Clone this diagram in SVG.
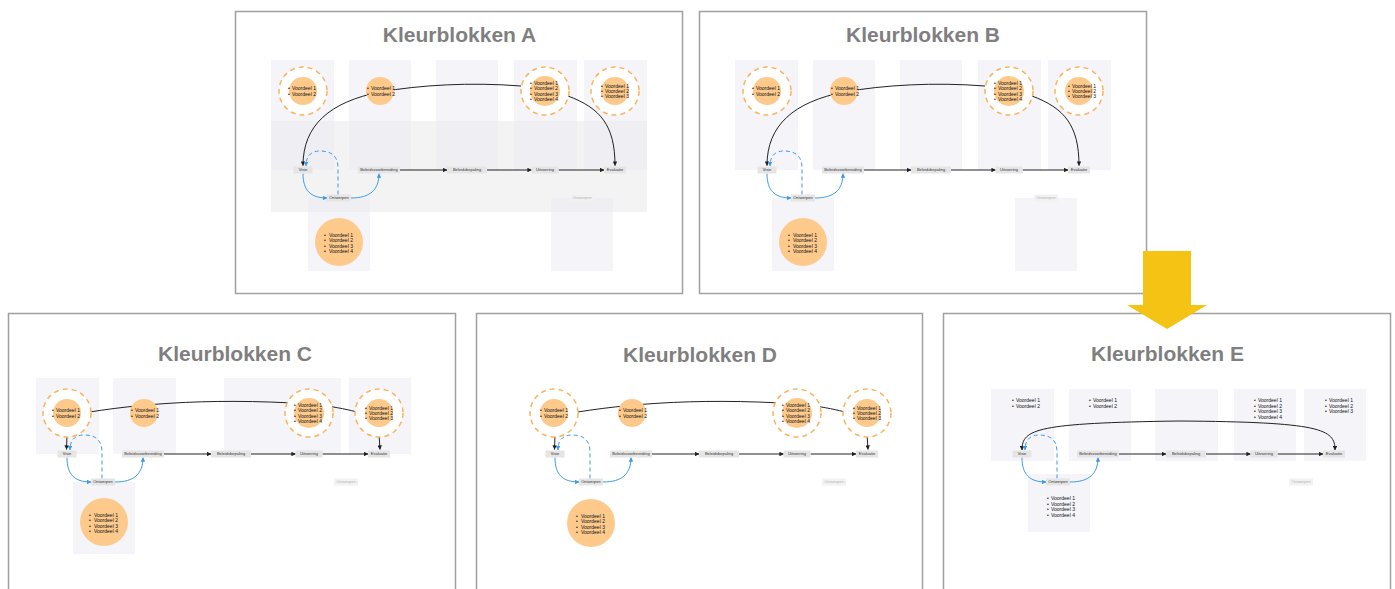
<svg xmlns="http://www.w3.org/2000/svg" width="1395" height="589" viewBox="0 0 1395 589">
  <defs>
    <style>
      .frame{fill:#fff;stroke:#a0a0a0;stroke-width:1.5}
      .title{font-family:'Liberation Sans',Arial,sans-serif;font-weight:bold;font-size:21px;fill:#7f7f7f;text-anchor:middle}
      .col{fill:#f4f4f9}
      .colt{fill:#e9e9f3;fill-opacity:0.5}
      .band{fill:#f3f3f3}
      .ring{fill:#fff;stroke:#f8b45c;stroke-width:1.5;stroke-dasharray:5 4}
      .blob{fill:#fdca8c}
      .lbl rect{fill:#e5e5e5}
      .lbl text{font-family:'Liberation Sans',Arial,sans-serif;font-size:4px;fill:#333;text-anchor:middle}
      .ghost rect{fill:#f2f2f2}
      .ghost text{font-family:'Liberation Sans',Arial,sans-serif;font-size:4px;fill:#b4b4b4;text-anchor:middle}
      .li{font-family:'Liberation Sans',Arial,sans-serif;font-size:5px;fill:#111}
      .k{fill:none;stroke:#222;stroke-width:1}
      .b{fill:none;stroke:#3d9be9;stroke-width:1}
      .bd{fill:none;stroke:#3d9be9;stroke-width:1;stroke-dasharray:4 3}
    </style>
    <marker id="ak" viewBox="0 0 6 6" refX="5.5" refY="3" markerWidth="4.5" markerHeight="4.5" markerUnits="userSpaceOnUse" orient="auto-start-reverse">
      <path d="M0,0 L6,3 L0,6 Z" fill="#222"/>
    </marker>
    <marker id="ab" viewBox="0 0 6 6" refX="5.5" refY="3" markerWidth="4.5" markerHeight="4.5" markerUnits="userSpaceOnUse" orient="auto-start-reverse">
      <path d="M0,0 L6,3 L0,6 Z" fill="#3d9be9"/>
    </marker>
  </defs>

  <!-- panel frames and titles -->
  <rect class="frame" x="235.5" y="11.5" width="447" height="282"/>
  <rect class="frame" x="699.5" y="11.5" width="447" height="282"/>
  <rect class="frame" x="8.5" y="313.5" width="447" height="290"/>
  <rect class="frame" x="476.5" y="313.5" width="446" height="290"/>
  <rect class="frame" x="943.5" y="313.5" width="447" height="290"/>
  <text class="title" x="459.5" y="42">Kleurblokken A</text>
  <text class="title" x="923" y="42">Kleurblokken B</text>
  <text class="title" x="235" y="361">Kleurblokken C</text>
  <text class="title" x="700" y="362">Kleurblokken D</text>
  <text class="title" x="1167.5" y="361">Kleurblokken E</text>

  <!-- ===== Panel A ===== -->
  <g id="panel-a">
    <g id="a-blocks">
      <rect class="band" x="271" y="121" width="376" height="91"/>
      <rect class="colt" x="271" y="60" width="63" height="110"/>
      <rect class="colt" x="349" y="60" width="62" height="110"/>
      <rect class="colt" x="436" y="60" width="62" height="110"/>
      <rect class="colt" x="514" y="60" width="63" height="110"/>
      <rect class="colt" x="584" y="60" width="63" height="110"/>
      <rect class="colt" x="308" y="198" width="62" height="73"/>
      <rect class="colt" x="551" y="198" width="62" height="73"/>
    </g>
    <g id="a-connectors">
      <path class="k" d="M521,86 C470,82 420,85 380,92 C330,102 303,125 303,165.5" marker-end="url(#ak)"/>
      <path class="k" d="M568,96 C600,108 615,125 615,165.5" marker-end="url(#ak)"/>
      <path class="k" d="M400,170 L447,170" marker-end="url(#ak)"/>
      <path class="k" d="M487,170 L531.5,170" marker-end="url(#ak)"/>
      <path class="k" d="M558.5,170 L604,170" marker-end="url(#ak)"/>
      <path class="b" d="M303,173.5 C303,190 310,198 327,198" marker-end="url(#ab)"/>
      <path class="b" d="M351,198 C370,198 379,190 379,173.5" marker-end="url(#ab)"/>
      <path class="bd" d="M338,194.5 L338,168 C338,155 330,151 320,151 C311,151 306,156 306,166" marker-end="url(#ab)"/>
    </g>
    <g id="a-pro-visie"><circle class="ring" cx="303" cy="91" r="24"/><circle class="blob" cx="303" cy="91" r="14"/>
      <text class="li"><tspan x="288" y="90.2">•</tspan><tspan x="292">Voordeel 1</tspan><tspan x="288" y="95.5">•</tspan><tspan x="292">Voordeel 2</tspan></text></g>
    <g id="a-pro-voorbereiding"><circle class="blob" cx="380" cy="91" r="14"/>
      <text class="li"><tspan x="367" y="90.2">•</tspan><tspan x="371">Voordeel 1</tspan><tspan x="367" y="95.5">•</tspan><tspan x="371">Voordeel 2</tspan></text></g>
    <g id="a-pro-uitvoering"><circle class="ring" cx="545" cy="91" r="24"/><circle class="blob" cx="545" cy="91" r="15"/>
      <text class="li"><tspan x="530" y="84.8">•</tspan><tspan x="534">Voordeel 1</tspan><tspan x="530" y="90.1">•</tspan><tspan x="534">Voordeel 2</tspan><tspan x="530" y="95.5">•</tspan><tspan x="534">Voordeel 3</tspan><tspan x="530" y="100.8">•</tspan><tspan x="534">Voordeel 4</tspan></text></g>
    <g id="a-pro-evaluatie"><circle class="ring" cx="615" cy="91" r="24"/><circle class="blob" cx="615" cy="91" r="14"/>
      <text class="li"><tspan x="601" y="87.5">•</tspan><tspan x="605">Voordeel 1</tspan><tspan x="601" y="92.8">•</tspan><tspan x="605">Voordeel 2</tspan><tspan x="601" y="98.1">•</tspan><tspan x="605">Voordeel 3</tspan></text></g>
    <g id="a-pro-ontwerpen"><circle class="blob" cx="339" cy="242" r="24"/>
      <text class="li"><tspan x="324" y="236.8">•</tspan><tspan x="329">Voordeel 1</tspan><tspan x="324" y="242.1">•</tspan><tspan x="329">Voordeel 2</tspan><tspan x="324" y="247.5">•</tspan><tspan x="329">Voordeel 3</tspan><tspan x="324" y="252.8">•</tspan><tspan x="329">Voordeel 4</tspan></text></g>
    <g id="a-visie" class="lbl"><rect x="293.5" y="166.5" width="19" height="7"/><text x="303" y="171.4">Visie</text></g>
    <g id="a-beleidsvoorbereiding" class="lbl"><rect x="358" y="166.5" width="42" height="7"/><text x="379" y="171.4">Beleidsvoorbereiding</text></g>
    <g id="a-beleidsbepaling" class="lbl"><rect x="447" y="166.5" width="40" height="7"/><text x="467" y="171.4">Beleidsbepaling</text></g>
    <g id="a-uitvoering" class="lbl"><rect x="531.5" y="166.5" width="27" height="7"/><text x="545" y="171.4">Uitvoering</text></g>
    <g id="a-evaluatie" class="lbl"><rect x="604" y="166.5" width="22" height="7"/><text x="615" y="171.4">Evaluatie</text></g>
    <g id="a-ontwerpen" class="lbl"><rect x="327" y="194.5" width="24" height="7"/><text x="339" y="199.4">Ontwerpen</text></g>
    <g id="a-ontwerpen-ghost" class="ghost"><rect x="570" y="194.5" width="24" height="7"/><text x="582" y="199.4">Ontwerpen</text></g>
  </g>

  <!-- ===== Panel B ===== -->
  <g id="panel-b" transform="translate(464,0)">
    <g id="b-blocks">
      <rect class="col" x="271" y="60" width="63" height="110"/>
      <rect class="col" x="349" y="60" width="62" height="110"/>
      <rect class="col" x="436" y="60" width="62" height="110"/>
      <rect class="col" x="514" y="60" width="63" height="110"/>
      <rect class="col" x="584" y="60" width="63" height="110"/>
      <rect class="col" x="308" y="198" width="62" height="73"/>
      <rect class="col" x="551" y="198" width="62" height="73"/>
    </g>
    <g id="b-connectors">
      <path class="k" d="M521,86 C470,82 420,85 380,92 C330,102 303,125 303,165.5" marker-end="url(#ak)"/>
      <path class="k" d="M568,96 C600,108 615,125 615,165.5" marker-end="url(#ak)"/>
      <path class="k" d="M400,170 L447,170" marker-end="url(#ak)"/>
      <path class="k" d="M487,170 L531.5,170" marker-end="url(#ak)"/>
      <path class="k" d="M558.5,170 L604,170" marker-end="url(#ak)"/>
      <path class="b" d="M303,173.5 C303,190 310,198 327,198" marker-end="url(#ab)"/>
      <path class="b" d="M351,198 C370,198 379,190 379,173.5" marker-end="url(#ab)"/>
      <path class="bd" d="M338,194.5 L338,168 C338,155 330,151 320,151 C311,151 306,156 306,166" marker-end="url(#ab)"/>
    </g>
    <g id="b-pro-visie"><circle class="ring" cx="303" cy="91" r="24"/><circle class="blob" cx="303" cy="91" r="14"/>
      <text class="li"><tspan x="288" y="90.2">•</tspan><tspan x="292">Voordeel 1</tspan><tspan x="288" y="95.5">•</tspan><tspan x="292">Voordeel 2</tspan></text></g>
    <g id="b-pro-voorbereiding"><circle class="blob" cx="380" cy="91" r="14"/>
      <text class="li"><tspan x="367" y="90.2">•</tspan><tspan x="371">Voordeel 1</tspan><tspan x="367" y="95.5">•</tspan><tspan x="371">Voordeel 2</tspan></text></g>
    <g id="b-pro-uitvoering"><circle class="ring" cx="545" cy="91" r="24"/><circle class="blob" cx="545" cy="91" r="15"/>
      <text class="li"><tspan x="530" y="84.8">•</tspan><tspan x="534">Voordeel 1</tspan><tspan x="530" y="90.1">•</tspan><tspan x="534">Voordeel 2</tspan><tspan x="530" y="95.5">•</tspan><tspan x="534">Voordeel 3</tspan><tspan x="530" y="100.8">•</tspan><tspan x="534">Voordeel 4</tspan></text></g>
    <g id="b-pro-evaluatie"><circle class="ring" cx="615" cy="91" r="24"/><circle class="blob" cx="615" cy="91" r="14"/>
      <text class="li"><tspan x="604" y="87.5">•</tspan><tspan x="608">Voordeel 1</tspan><tspan x="604" y="92.8">•</tspan><tspan x="608">Voordeel 2</tspan><tspan x="604" y="98.1">•</tspan><tspan x="608">Voordeel 3</tspan></text></g>
    <g id="b-pro-ontwerpen"><circle class="blob" cx="339" cy="242" r="24"/>
      <text class="li"><tspan x="324" y="236.8">•</tspan><tspan x="329">Voordeel 1</tspan><tspan x="324" y="242.1">•</tspan><tspan x="329">Voordeel 2</tspan><tspan x="324" y="247.5">•</tspan><tspan x="329">Voordeel 3</tspan><tspan x="324" y="252.8">•</tspan><tspan x="329">Voordeel 4</tspan></text></g>
    <g id="b-visie" class="lbl"><rect x="293.5" y="166.5" width="19" height="7"/><text x="303" y="171.4">Visie</text></g>
    <g id="b-beleidsvoorbereiding" class="lbl"><rect x="358" y="166.5" width="42" height="7"/><text x="379" y="171.4">Beleidsvoorbereiding</text></g>
    <g id="b-beleidsbepaling" class="lbl"><rect x="447" y="166.5" width="40" height="7"/><text x="467" y="171.4">Beleidsbepaling</text></g>
    <g id="b-uitvoering" class="lbl"><rect x="531.5" y="166.5" width="27" height="7"/><text x="545" y="171.4">Uitvoering</text></g>
    <g id="b-evaluatie" class="lbl"><rect x="604" y="166.5" width="22" height="7"/><text x="615" y="171.4">Evaluatie</text></g>
    <g id="b-ontwerpen" class="lbl"><rect x="327" y="194.5" width="24" height="7"/><text x="339" y="199.4">Ontwerpen</text></g>
    <g id="b-ontwerpen-ghost" class="ghost"><rect x="570" y="194.5" width="24" height="7"/><text x="582" y="199.4">Ontwerpen</text></g>
  </g>

  <!-- ===== Panel C ===== -->
  <g id="panel-c" transform="translate(-236,284)">
    <g id="c-blocks">
      <rect class="col" x="272" y="94" width="63" height="76"/>
      <rect class="col" x="349" y="94" width="63" height="76"/>
      <rect class="col" x="460" y="94" width="117" height="76"/>
      <rect class="col" x="585" y="94" width="62" height="76"/>
      <rect class="col" x="309" y="198" width="62" height="72"/>
    </g>
    <g id="c-connectors">
      <path class="k" d="M303,132 C360,121 440,113 545,120 C580,123 600,130 615,134"/>
      <path class="k" d="M303,150 L302.5,165.5" marker-end="url(#ak)"/>
      <path class="k" d="M615,150 L616,165.5" marker-end="url(#ak)"/>
      <path class="k" d="M400,170 L447,170" marker-end="url(#ak)"/>
      <path class="k" d="M487,170 L531.5,170" marker-end="url(#ak)"/>
      <path class="k" d="M558.5,170 L604,170" marker-end="url(#ak)"/>
      <path class="b" d="M303,173.5 C303,190 310,198 327,198" marker-end="url(#ab)"/>
      <path class="b" d="M351,198 C370,198 379,190 379,173.5" marker-end="url(#ab)"/>
      <path class="bd" d="M338,194.5 L338,168 C338,155 330,151 320,151 C311,151 306,156 306,166" marker-end="url(#ab)"/>
    </g>
    <g id="c-pro-visie"><circle class="ring" cx="303" cy="129" r="24"/><circle class="blob" cx="303" cy="129" r="14"/>
      <text class="li"><tspan x="288" y="128.2">•</tspan><tspan x="292">Voordeel 1</tspan><tspan x="288" y="133.5">•</tspan><tspan x="292">Voordeel 2</tspan></text></g>
    <g id="c-pro-voorbereiding"><circle class="blob" cx="380" cy="129" r="14"/>
      <text class="li"><tspan x="367" y="128.2">•</tspan><tspan x="371">Voordeel 1</tspan><tspan x="367" y="133.5">•</tspan><tspan x="371">Voordeel 2</tspan></text></g>
    <g id="c-pro-uitvoering"><circle class="ring" cx="545" cy="129" r="24"/><circle class="blob" cx="545" cy="129" r="15"/>
      <text class="li"><tspan x="530" y="122.8">•</tspan><tspan x="534">Voordeel 1</tspan><tspan x="530" y="128.1">•</tspan><tspan x="534">Voordeel 2</tspan><tspan x="530" y="133.5">•</tspan><tspan x="534">Voordeel 3</tspan><tspan x="530" y="138.8">•</tspan><tspan x="534">Voordeel 4</tspan></text></g>
    <g id="c-pro-evaluatie"><circle class="ring" cx="615" cy="129" r="24"/><circle class="blob" cx="615" cy="129" r="14"/>
      <text class="li"><tspan x="601" y="125.5">•</tspan><tspan x="605">Voordeel 1</tspan><tspan x="601" y="130.8">•</tspan><tspan x="605">Voordeel 2</tspan><tspan x="601" y="136.1">•</tspan><tspan x="605">Voordeel 3</tspan></text></g>
    <g id="c-pro-ontwerpen"><circle class="blob" cx="340" cy="238" r="24"/>
      <text class="li"><tspan x="325" y="232.8">•</tspan><tspan x="330">Voordeel 1</tspan><tspan x="325" y="238.1">•</tspan><tspan x="330">Voordeel 2</tspan><tspan x="325" y="243.5">•</tspan><tspan x="330">Voordeel 3</tspan><tspan x="325" y="248.8">•</tspan><tspan x="330">Voordeel 4</tspan></text></g>
    <g id="c-visie" class="lbl"><rect x="293.5" y="166.5" width="19" height="7"/><text x="303" y="171.4">Visie</text></g>
    <g id="c-beleidsvoorbereiding" class="lbl"><rect x="358" y="166.5" width="42" height="7"/><text x="379" y="171.4">Beleidsvoorbereiding</text></g>
    <g id="c-beleidsbepaling" class="lbl"><rect x="447" y="166.5" width="40" height="7"/><text x="467" y="171.4">Beleidsbepaling</text></g>
    <g id="c-uitvoering" class="lbl"><rect x="531.5" y="166.5" width="27" height="7"/><text x="545" y="171.4">Uitvoering</text></g>
    <g id="c-evaluatie" class="lbl"><rect x="604" y="166.5" width="22" height="7"/><text x="615" y="171.4">Evaluatie</text></g>
    <g id="c-ontwerpen" class="lbl"><rect x="327" y="194.5" width="24" height="7"/><text x="339" y="199.4">Ontwerpen</text></g>
    <g id="c-ontwerpen-ghost" class="ghost"><rect x="570" y="194.5" width="24" height="7"/><text x="582" y="199.4">Ontwerpen</text></g>
  </g>

  <!-- ===== Panel D ===== -->
  <g id="panel-d" transform="translate(252,284)">
    <g id="d-connectors">
      <path class="k" d="M303,132 C360,121 440,113 545,120 C580,123 600,130 615,134"/>
      <path class="k" d="M303,150 L302.5,165.5" marker-end="url(#ak)"/>
      <path class="k" d="M615,150 L616,165.5" marker-end="url(#ak)"/>
      <path class="k" d="M400,170 L447,170" marker-end="url(#ak)"/>
      <path class="k" d="M487,170 L531.5,170" marker-end="url(#ak)"/>
      <path class="k" d="M558.5,170 L604,170" marker-end="url(#ak)"/>
      <path class="b" d="M303,173.5 C303,190 310,198 327,198" marker-end="url(#ab)"/>
      <path class="b" d="M351,198 C370,198 379,190 379,173.5" marker-end="url(#ab)"/>
      <path class="bd" d="M338,194.5 L338,168 C338,155 330,151 320,151 C311,151 306,156 306,166" marker-end="url(#ab)"/>
    </g>
    <g id="d-pro-visie"><circle class="ring" cx="302" cy="129" r="24"/><circle class="blob" cx="302" cy="129" r="14"/>
      <text class="li"><tspan x="288" y="128.2">•</tspan><tspan x="292">Voordeel 1</tspan><tspan x="288" y="133.5">•</tspan><tspan x="292">Voordeel 2</tspan></text></g>
    <g id="d-pro-voorbereiding"><circle class="blob" cx="380" cy="129" r="14"/>
      <text class="li"><tspan x="367" y="128.2">•</tspan><tspan x="371">Voordeel 1</tspan><tspan x="367" y="133.5">•</tspan><tspan x="371">Voordeel 2</tspan></text></g>
    <g id="d-pro-uitvoering"><circle class="ring" cx="545" cy="129" r="24"/><circle class="blob" cx="545" cy="129" r="15"/>
      <text class="li"><tspan x="530" y="122.8">•</tspan><tspan x="534">Voordeel 1</tspan><tspan x="530" y="128.1">•</tspan><tspan x="534">Voordeel 2</tspan><tspan x="530" y="133.5">•</tspan><tspan x="534">Voordeel 3</tspan><tspan x="530" y="138.8">•</tspan><tspan x="534">Voordeel 4</tspan></text></g>
    <g id="d-pro-evaluatie"><circle class="ring" cx="615" cy="129" r="24"/><circle class="blob" cx="615" cy="129" r="14"/>
      <text class="li"><tspan x="601" y="125.5">•</tspan><tspan x="605">Voordeel 1</tspan><tspan x="601" y="130.8">•</tspan><tspan x="605">Voordeel 2</tspan><tspan x="601" y="136.1">•</tspan><tspan x="605">Voordeel 3</tspan></text></g>
    <g id="d-pro-ontwerpen"><circle class="blob" cx="339" cy="239" r="24"/>
      <text class="li"><tspan x="324" y="233.8">•</tspan><tspan x="329">Voordeel 1</tspan><tspan x="324" y="239.1">•</tspan><tspan x="329">Voordeel 2</tspan><tspan x="324" y="244.5">•</tspan><tspan x="329">Voordeel 3</tspan><tspan x="324" y="249.8">•</tspan><tspan x="329">Voordeel 4</tspan></text></g>
    <g id="d-visie" class="lbl"><rect x="293.5" y="166.5" width="19" height="7"/><text x="303" y="171.4">Visie</text></g>
    <g id="d-beleidsvoorbereiding" class="lbl"><rect x="358" y="166.5" width="42" height="7"/><text x="379" y="171.4">Beleidsvoorbereiding</text></g>
    <g id="d-beleidsbepaling" class="lbl"><rect x="447" y="166.5" width="40" height="7"/><text x="467" y="171.4">Beleidsbepaling</text></g>
    <g id="d-uitvoering" class="lbl"><rect x="531.5" y="166.5" width="27" height="7"/><text x="545" y="171.4">Uitvoering</text></g>
    <g id="d-evaluatie" class="lbl"><rect x="604" y="166.5" width="22" height="7"/><text x="615" y="171.4">Evaluatie</text></g>
    <g id="d-ontwerpen" class="lbl"><rect x="327" y="194.5" width="24" height="7"/><text x="339" y="199.4">Ontwerpen</text></g>
    <g id="d-ontwerpen-ghost" class="ghost"><rect x="570" y="194.5" width="24" height="7"/><text x="582" y="199.4">Ontwerpen</text></g>
  </g>

  <!-- ===== Panel E ===== -->
  <g id="panel-e" transform="translate(719,284)">
    <g id="e-blocks">
      <rect class="col" x="272" y="105" width="63" height="72"/>
      <rect class="col" x="350" y="105" width="62" height="72"/>
      <rect class="col" x="436" y="105" width="63" height="72"/>
      <rect class="col" x="515" y="105" width="62" height="72"/>
      <rect class="col" x="585" y="105" width="62" height="72"/>
      <rect class="col" x="309" y="190" width="62" height="58"/>
    </g>
    <g id="e-connectors">
      <path class="k" d="M303,166 C303,145 318,139 460,137 C602,138 616,145 616,166" marker-start="url(#ak)" marker-end="url(#ak)"/>
      <path class="k" d="M400,170 L447,170" marker-end="url(#ak)"/>
      <path class="k" d="M487,170 L531.5,170" marker-end="url(#ak)"/>
      <path class="k" d="M558.5,170 L604,170" marker-end="url(#ak)"/>
      <path class="b" d="M303,173.5 C303,190 310,198 327,198" marker-end="url(#ab)"/>
      <path class="b" d="M351,198 C370,198 379,190 379,173.5" marker-end="url(#ab)"/>
      <path class="bd" d="M338,194.5 L338,168 C338,155 330,151 320,151 C311,151 306,156 306,166" marker-end="url(#ab)"/>
    </g>
    <g id="e-pro-visie"><text class="li"><tspan x="293" y="118">•</tspan><tspan x="297">Voordeel 1</tspan><tspan x="293" y="123.5">•</tspan><tspan x="297">Voordeel 2</tspan></text></g>
    <g id="e-pro-voorbereiding"><text class="li"><tspan x="370" y="118">•</tspan><tspan x="374">Voordeel 1</tspan><tspan x="370" y="123.5">•</tspan><tspan x="374">Voordeel 2</tspan></text></g>
    <g id="e-pro-uitvoering"><text class="li"><tspan x="535" y="118">•</tspan><tspan x="539">Voordeel 1</tspan><tspan x="535" y="123.5">•</tspan><tspan x="539">Voordeel 2</tspan><tspan x="535" y="129">•</tspan><tspan x="539">Voordeel 3</tspan><tspan x="535" y="134.5">•</tspan><tspan x="539">Voordeel 4</tspan></text></g>
    <g id="e-pro-evaluatie"><text class="li"><tspan x="606" y="118">•</tspan><tspan x="610">Voordeel 1</tspan><tspan x="606" y="123.5">•</tspan><tspan x="610">Voordeel 2</tspan><tspan x="606" y="129">•</tspan><tspan x="610">Voordeel 3</tspan></text></g>
    <g id="e-pro-ontwerpen"><text class="li"><tspan x="328" y="216">•</tspan><tspan x="332">Voordeel 1</tspan><tspan x="328" y="221.5">•</tspan><tspan x="332">Voordeel 2</tspan><tspan x="328" y="227">•</tspan><tspan x="332">Voordeel 3</tspan><tspan x="328" y="232.5">•</tspan><tspan x="332">Voordeel 4</tspan></text></g>
    <g id="e-visie" class="lbl"><rect x="293.5" y="166.5" width="19" height="7"/><text x="303" y="171.4">Visie</text></g>
    <g id="e-beleidsvoorbereiding" class="lbl"><rect x="358" y="166.5" width="42" height="7"/><text x="379" y="171.4">Beleidsvoorbereiding</text></g>
    <g id="e-beleidsbepaling" class="lbl"><rect x="447" y="166.5" width="40" height="7"/><text x="467" y="171.4">Beleidsbepaling</text></g>
    <g id="e-uitvoering" class="lbl"><rect x="531.5" y="166.5" width="27" height="7"/><text x="545" y="171.4">Uitvoering</text></g>
    <g id="e-evaluatie" class="lbl"><rect x="604" y="166.5" width="22" height="7"/><text x="615" y="171.4">Evaluatie</text></g>
    <g id="e-ontwerpen" class="lbl"><rect x="327" y="194.5" width="24" height="7"/><text x="339" y="199.4">Ontwerpen</text></g>
    <g id="e-ontwerpen-ghost" class="ghost"><rect x="570" y="194.5" width="24" height="7"/><text x="582" y="199.4">Ontwerpen</text></g>
  </g>

  <!-- big yellow arrow pointing from B down to E -->
  <g id="step-arrow">
    <polygon points="1143,251 1191,251 1191,305 1207,305 1167,329 1127,305 1143,305" fill="#f5c313"/>
  </g>
</svg>
